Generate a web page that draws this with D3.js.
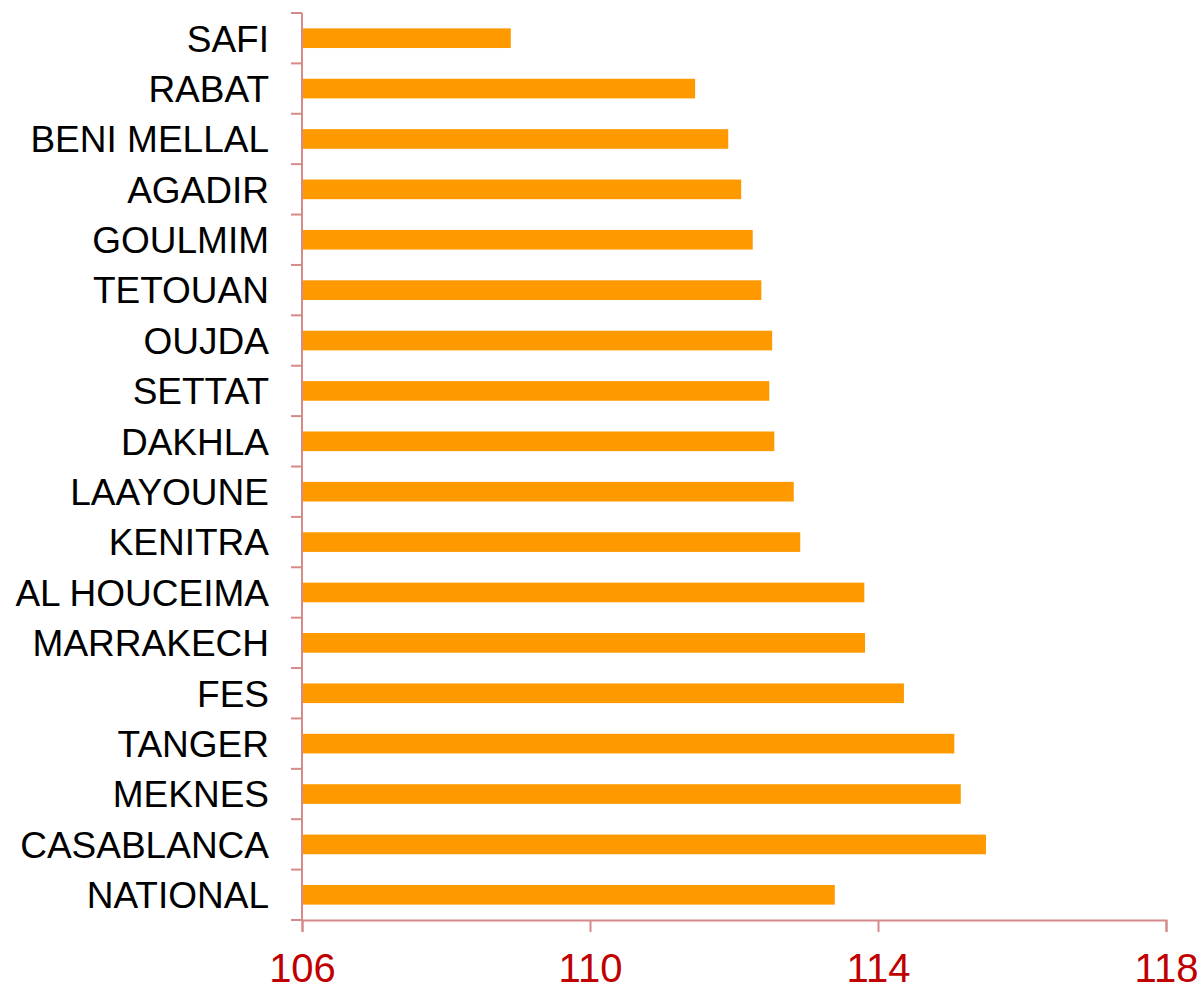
<!DOCTYPE html>
<html>
<head>
<meta charset="utf-8">
<script src="https://cdn.jsdelivr.net/npm/d3@7"></script>
<style>
  body { margin: 0; background: #fff; }
  svg { display: block; }
</style>
</head>
<body>
<svg id="chart"></svg>
<script>
// Categories top to bottom, and their values
const cities = ["SAFI", "RABAT", "BENI MELLAL", "AGADIR", "GOULMIM", "TETOUAN",
  "OUJDA", "SETTAT", "DAKHLA", "LAAYOUNE", "KENITRA", "AL HOUCEIMA",
  "MARRAKECH", "FES", "TANGER", "MEKNES", "CASABLANCA", "NATIONAL"];
const values = [108.9, 111.46, 111.92, 112.1, 112.26, 112.38,
  112.53, 112.49, 112.56, 112.83, 112.92, 113.81,
  113.82, 114.36, 115.06, 115.15, 115.5, 113.4];
const xTicks = [106, 110, 114, 118];

const width = 1201;
const height = 989;
const margin = { top: 13, right: 35, bottom: 69, left: 302 };

const svg = d3.select("#chart")
  .attr("width", width)
  .attr("height", height);

const g = svg.append("g")
  .attr("transform", `translate(${margin.left},${margin.top})`);

const innerW = width - margin.left - margin.right;
const innerH = height - margin.top - margin.bottom;

const x = d3.scaleLinear().domain([106, 118]).range([0, innerW]);
const y = d3.scaleBand().domain(cities).range([0, innerH]).paddingInner(0.61).paddingOuter(0.305);

const axisColor = "#d68a8a";

// bars
g.selectAll(".bar")
  .data(cities)
  .enter()
  .append("rect")
  .attr("class", "bar")
  .attr("x", x(106))
  .attr("y", d => y(d))
  .attr("width", (d, i) => x(values[i]) - x(106))
  .attr("height", y.bandwidth())
  .attr("fill", "#ff9900");

// y axis: line plus ticks at band boundaries
g.append("line")
  .attr("x1", 0).attr("x2", 0)
  .attr("y1", 0).attr("y2", innerH)
  .attr("stroke", axisColor).attr("stroke-width", 2);

const step = innerH / cities.length;
g.selectAll(".ytick")
  .data(d3.range(cities.length + 1))
  .enter()
  .append("line")
  .attr("x1", -11).attr("x2", 0)
  .attr("y1", i => i * step).attr("y2", i => i * step)
  .attr("stroke", axisColor).attr("stroke-width", 2);

g.selectAll(".ylabel")
  .data(cities)
  .enter()
  .append("text")
  .attr("x", -33)
  .attr("y", d => y(d) + y.bandwidth() / 2)
  .attr("dy", "0.36em")
  .attr("text-anchor", "end")
  .style("font-family", "Liberation Sans, Arial, sans-serif")
  .style("font-size", "37px")
  .attr("fill", "#000")
  .text(d => d);

// x axis
const xAxis = g.append("g")
  .attr("transform", `translate(0,${innerH})`)
  .call(d3.axisBottom(x).tickValues(xTicks).tickSize(12).tickPadding(22).tickFormat(d3.format("d")));

xAxis.select(".domain").attr("stroke", axisColor).attr("stroke-width", 2);
xAxis.selectAll(".tick line").attr("stroke", axisColor).attr("stroke-width", 2);
xAxis.selectAll(".tick text")
  .attr("fill", "#c00000")
  .style("font-family", "Liberation Sans, Arial, sans-serif")
  .style("font-size", "40px");
</script>
</body>
</html>
